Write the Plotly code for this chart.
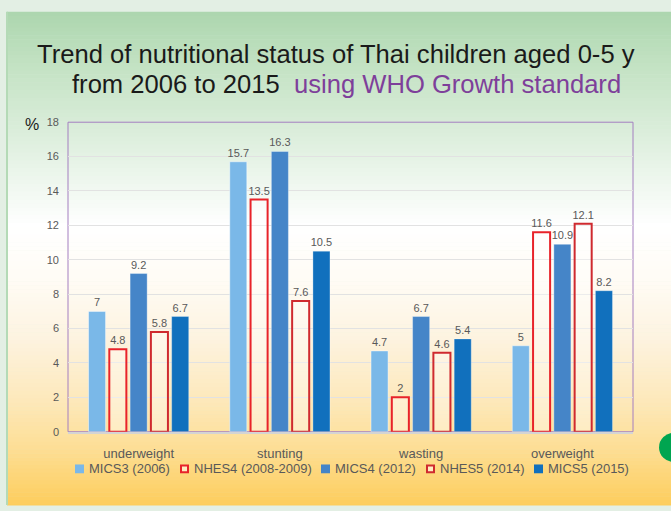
import plotly.graph_objects as go

W, H = 671, 511

categories = ["underweight", "stunting", "wasting", "overweight"]
series_names = ["MICS3 (2006)", "NHES4 (2008-2009)", "MICS4 (2012)", "NHES5 (2014)", "MICS5 (2015)"]
mics3 = [7, 15.7, 4.7, 5]
nhes4 = [4.8, 13.5, 2, 11.6]
mics4 = [9.2, 16.3, 6.7, 10.9]
nhes5 = [5.8, 7.6, 4.6, 12.1]
mics5 = [6.7, 10.5, 5.4, 8.2]
y_ticks = [0, 2, 4, 6, 8, 10, 12, 14, 16, 18]

series_values = [mics3, nhes4, mics4, nhes5, mics5]
# style: (fill, line color, line width)
styles = [
    ("#7ab8e8", "rgba(255,255,255,0.45)", 1),
    ("rgba(255,255,255,0.35)", "#e8232a", 2),
    ("#4585c8", "rgba(255,255,255,0.35)", 1),
    ("rgba(255,255,255,0.35)", "#cf2a2f", 2),
    ("#1170bd", "rgba(255,255,255,0.3)", 1),
]

def px(x):
    return x / W

def py(y):
    return 1 - y / H

fig = go.Figure()
for name, vals, (fill, lc, lw) in zip(series_names, series_values, styles):
    fig.add_trace(go.Bar(
        x=categories, y=vals, name=name,
        marker=dict(color=fill, line=dict(color=lc, width=lw)),
        texttemplate="%{y}", textposition="outside", constraintext="none",
        textfont=dict(family="Liberation Sans, Arial", size=11, color="#595959"),
        cliponaxis=False, showlegend=False,
    ))

shapes = []
# outer frame colour
shapes.append(dict(type="rect", xref="paper", yref="paper", x0=0, x1=1, y0=0, y1=1,
                   fillcolor="#e3efe4", line=dict(width=0), layer="below"))
# gradient background of the slide
stops = [
    (6, (0xac, 0xd6, 0xae)),
    (60, (0xc3, 0xe2, 0xc3)),
    (120, (0xd8, 0xec, 0xd8)),
    (180, (0xee, 0xf7, 0xee)),
    (225, (0xff, 0xff, 0xff)),
    (280, (0xff, 0xfc, 0xf5)),
    (340, (0xfd, 0xf3, 0xe0)),
    (400, (0xfd, 0xe9, 0xbd)),
    (450, (0xfd, 0xdf, 0x98)),
    (511, (0xfd, 0xcd, 0x5c)),
]

def col_at(y):
    for (y0, c0), (y1, c1) in zip(stops[:-1], stops[1:]):
        if y0 <= y <= y1:
            t = (y - y0) / (y1 - y0)
            c = [round(a + (b - a) * t) for a, b in zip(c0, c1)]
            return "rgb(%d,%d,%d)" % tuple(c)
    return "rgb(%d,%d,%d)" % stops[-1][1]

step = 4
y = 6
while y < H:
    y2 = min(y + step, H)
    shapes.append(dict(type="rect", xref="paper", yref="paper",
                       x0=px(7), x1=1, y0=py(y2 + 0.5), y1=py(y),
                       fillcolor=col_at((y + y2) / 2), line=dict(width=0), layer="below"))
    y = y2
# left green edge line
shapes.append(dict(type="line", xref="paper", yref="paper", x0=px(7), x1=px(7), y0=0, y1=py(6),
                   line=dict(color="#b4dab6", width=2), layer="below"))
# plot frame (purple)
shapes.append(dict(type="rect", xref="x domain", yref="y domain", x0=0, x1=1, y0=0, y1=1,
                   line=dict(color="#a47fc0", width=1), layer="below"))
# green circle at right edge
shapes.append(dict(type="circle", xref="paper", yref="paper",
                   x0=px(659), x1=px(689), y0=py(467), y1=py(437),
                   fillcolor="#00a550", line=dict(width=0)))

title_font = dict(family="Liberation Sans, Arial", size=25.6, color="#1a1a1a")
annotations = [
    dict(text="Trend of nutritional status of Thai children aged 0-5 y",
         xref="paper", yref="paper", x=px(335.5), y=py(49), xanchor="center", yanchor="middle",
         showarrow=False, font=title_font),
    dict(text="from 2006 to 2015&nbsp; <span style='color:#7e3f9a'>using WHO Growth standard</span>",
         xref="paper", yref="paper", x=px(347), y=py(80), xanchor="center", yanchor="middle",
         showarrow=False, font=title_font),
    dict(text="%", xref="paper", yref="paper", x=px(32), y=py(121),
         xanchor="center", yanchor="middle", showarrow=False,
         font=dict(family="Liberation Sans, Arial", size=16, color="#1a1a1a")),
]

# custom legend
leg_sq_x = [75, 180, 321, 426, 534]
leg_y = 474
for i, name in enumerate(series_names):
    fill, lc, lw = styles[i]
    if lw == 2:
        shapes.append(dict(type="rect", xref="paper", yref="paper",
                           x0=px(leg_sq_x[i] + 1), x1=px(leg_sq_x[i] + 8),
                           y0=py(leg_y + 3.5), y1=py(leg_y - 3.5),
                           fillcolor="rgba(255,255,255,0.5)", line=dict(color=lc, width=2)))
    else:
        shapes.append(dict(type="rect", xref="paper", yref="paper",
                           x0=px(leg_sq_x[i]), x1=px(leg_sq_x[i] + 9),
                           y0=py(leg_y + 4.5), y1=py(leg_y - 4.5),
                           fillcolor=fill, line=dict(width=0)))
    annotations.append(dict(text=name, xref="paper", yref="paper",
                            x=px(leg_sq_x[i] + 12), y=py(leg_y), xanchor="left", yanchor="middle",
                            showarrow=False,
                            font=dict(family="Liberation Sans, Arial", size=13, color="#595959")))

fig.update_layout(
    width=W, height=H,
    margin=dict(l=0, r=0, t=0, b=0),
    paper_bgcolor="#e3efe4", plot_bgcolor="rgba(0,0,0,0)",
    barmode="group", bargap=0.264, bargroupgap=0.18,
    shapes=shapes, annotations=annotations, showlegend=False,
    xaxis=dict(domain=[px(68), px(633)], showgrid=False, showline=True,
               linecolor="#d4d4d4", linewidth=2, ticks="",
               tickfont=dict(family="Liberation Sans, Arial", size=13, color="#595959"),
               ticklabelstandoff=9),
    yaxis=dict(domain=[py(436), py(119)], range=[0, 18], tickvals=y_ticks,
               showgrid=True, gridcolor="#e2e2e2", gridwidth=1, zeroline=False,
               showline=False, ticks="",
               tickfont=dict(family="Liberation Sans, Arial", size=11, color="#595959"),
               ticklabelstandoff=8),
)

fig.write_html("out.html")
